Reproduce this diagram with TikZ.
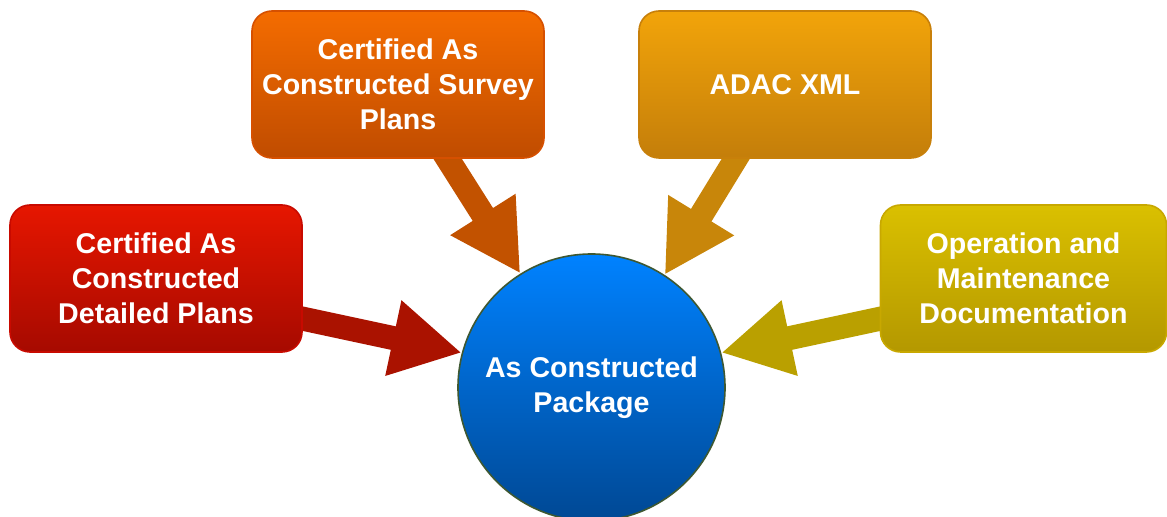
\documentclass[tikz,border=0pt]{standalone}
\usepackage{fontspec}
\setmainfont{Liberation Sans}
\usetikzlibrary{arrows.meta}
\pgfdeclarelayer{background}
\pgfsetlayers{background,main}

% box fills (top / bottom), borders and arrow colours
\definecolor{redtop}{RGB}{230,22,0}
\definecolor{redbot}{RGB}{166,10,0}
\definecolor{rededge}{RGB}{200,10,0}
\definecolor{redarrow}{RGB}{170,18,0}
\definecolor{orgtop}{RGB}{244,108,0}
\definecolor{orgbot}{RGB}{192,76,0}
\definecolor{orgedge}{RGB}{214,80,0}
\definecolor{orgarrow}{RGB}{194,82,0}
\definecolor{ambtop}{RGB}{242,164,10}
\definecolor{ambbot}{RGB}{196,126,10}
\definecolor{ambedge}{RGB}{200,128,10}
\definecolor{ambarrow}{RGB}{200,134,10}
\definecolor{yeltop}{RGB}{218,192,0}
\definecolor{yelbot}{RGB}{180,152,0}
\definecolor{yeledge}{RGB}{200,168,0}
\definecolor{yelarrow}{RGB}{186,160,0}
\definecolor{bluetop}{RGB}{0,130,255}
\definecolor{bluebot}{RGB}{0,72,148}
\definecolor{blueedge}{RGB}{62,88,50}

\begin{document}
\begin{tikzpicture}[x=0.5pt,y=-0.5pt,
  labeltext/.style={text=white, align=center,
    font=\bfseries\fontsize{14.3}{17.5}\selectfont},
  srcbox/.style={labeltext, rounded corners=10pt, minimum width=146pt,
    minimum height=73.5pt, inner sep=0pt, line width=0.8pt},
  feed/.style={line width=12pt, -{Triangle[length=35pt,width=36pt]}}
]
\useasboundingbox (0,0) rectangle (1167,517);

% central package
\node[labeltext, circle, minimum size=133.5pt, inner sep=0pt,
      top color=bluetop, bottom color=bluebot, draw=blueedge, line width=0.8pt]
  (pkg) at (591.5,387.5) {As Constructed\\Package};

% source documents
\node[srcbox, top color=redtop, bottom color=redbot, draw=rededge]
  (detailed) at (156,278.5) {Certified As\\Constructed\\Detailed Plans};
\node[srcbox, top color=orgtop, bottom color=orgbot, draw=orgedge]
  (survey) at (398,84.5) {Certified As\\Constructed Survey\\Plans};
\node[srcbox, top color=ambtop, bottom color=ambbot, draw=ambedge]
  (adac) at (785,84.5) {ADAC XML};
\node[srcbox, minimum width=143pt, top color=yeltop, bottom color=yelbot, draw=yeledge]
  (om) at (1023.5,278.5) {Operation and\\Maintenance\\Documentation};

% arrow tails start inside the boxes
\coordinate (detailedtail) at (280,313.8);
\coordinate (surveytail) at (435.7,140);
\coordinate (adactail) at (747.3,140);
\coordinate (omtail) at (903,313.8);

\begin{pgfonlayer}{background}
  \draw[feed, redarrow] (detailedtail) -- (pkg.165);
  \draw[feed, orgarrow] (surveytail) -- (pkg.122.5);
  \draw[feed, ambarrow] (adactail) -- (pkg.57.5);
  \draw[feed, yelarrow] (omtail) -- (pkg.15);
\end{pgfonlayer}
\end{tikzpicture}
\end{document}
